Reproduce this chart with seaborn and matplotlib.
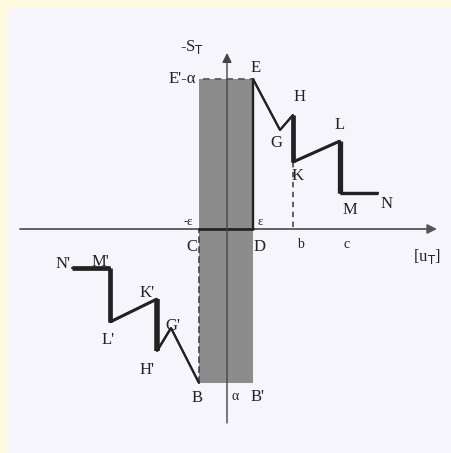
import matplotlib
matplotlib.use("Agg")
import matplotlib.pyplot as plt
import seaborn as sns
import pandas as pd
import numpy as np

# Softening branch for positive slip (E -> G -> H -> K -> L -> M -> N)
right_labels = ["E", "G", "H", "K", "L", "M", "N"]
right_x = [26, 53, 66, 66, 113, 113, 151]
right_y = [150, 99, 114, 67, 88, 36, 36]

# Mirrored branch for negative slip (B -> G' -> H' -> K' -> L' -> M' -> N')
left_labels = ["B", "G'", "H'", "K'", "L'", "M'", "N'"]
left_x = [-28, -56, -70, -70, -117, -117, -155]
left_y = [-154, -99, -122, -70, -93, -39, -39]

# Elastic band between -ε and ε, bounded by E'-α above and B' below
band_x = [-28, 26]
band_top = 150
band_bottom = -154

# Segment widths along each branch
right_widths = [1.5, 1.5, 3.4, 2.2, 3.8, 2.4]
left_widths = [1.5, 1.7, 4.0, 2.2, 3.4, 3.4]

sns.set_theme(style="white")
plt.rcParams["font.family"] = ["Liberation Serif", "DejaVu Serif"]

fig = plt.figure(figsize=(4.52, 4.53), dpi=100, facecolor="#fffbdf")
ax = fig.add_axes([8 / 452, 0, 444 / 452, 445 / 453])
ax.set_facecolor("#f6f5fb")
for s in ax.spines.values():
    s.set_visible(False)
ax.set_xticks([])
ax.set_yticks([])

ink = "#222222"

# shaded elastic band
ax.fill_between(band_x, band_bottom, band_top, color="#8c8c8c", zorder=1, lw=0)
ax.plot([band_x[1], band_x[1]], [0, band_top], color=ink, lw=1.7, zorder=3)
ax.plot([band_x[0], band_x[0]], [band_bottom, 0], color="#444", lw=1.2, ls=(0, (4, 2)), zorder=3)
ax.plot([band_x[0] + 4, band_x[1]], [band_top, band_top], color="#555", lw=1.2, ls=(0, (4, 3)), zorder=3)
ax.plot(band_x, [0, 0], color=ink, lw=1.9, zorder=3)

# coordinate axes
ax.annotate("", xy=(210, 0), xytext=(-207, 0),
            arrowprops=dict(arrowstyle="-|>", color="#555", lw=1.3,
                            mutation_scale=14, shrinkA=0, shrinkB=0), zorder=2)
ax.annotate("", xy=(0, 176), xytext=(0, -194),
            arrowprops=dict(arrowstyle="-|>", color="#444", lw=1.0,
                            mutation_scale=14, shrinkA=0, shrinkB=0), zorder=4)

# branches
right = pd.DataFrame({"x": right_x, "y": right_y})
left = pd.DataFrame({"x": left_x, "y": left_y})
sns.lineplot(data=right, x="x", y="y", sort=False, estimator=None, color=ink, lw=1.5, ax=ax, zorder=5)
sns.lineplot(data=left, x="x", y="y", sort=False, estimator=None, color=ink, lw=1.5, ax=ax, zorder=5)
for xs, ys, ws in ((right_x, right_y, right_widths), (left_x, left_y, left_widths)):
    for i, w in enumerate(ws):
        ax.plot(xs[i:i + 2], ys[i:i + 2], color=ink, lw=w, solid_capstyle="butt", zorder=5)

# projection from K down to b
ax.plot([right_x[3], right_x[3]], [right_y[3], 0], color="#555", lw=1.3, ls=(0, (3, 2.5)), zorder=2)

ax.set_xlabel("")
ax.set_ylabel("")
ax.set_xlim(-219, 225)
ax.set_ylim(-224, 221)

fs = 12
tc = "#222"
labels = [
    ("-S$_\\mathrm{T}$", -35, 182, fs),
    ("E'-α", -45, 150, fs),
    ("E", 29, 161, fs), ("H", 73, 132, fs), ("G", 49, 86, fs),
    ("K", 71, 53, fs), ("L", 113, 104, fs), ("M", 123, 19, fs), ("N", 160, 25, fs),
    ("-ε", -39, 7, 9), ("ε", 33, 7, 9),
    ("C", -35, -18, fs), ("D", 33, -18, fs),
    ("b", 73, -16, 10), ("c", 120, -16, 10),
    ("[u$_\\mathrm{T}$]", 200, -27, fs),
    ("N'", -164, -35, fs), ("M'", -127, -33, fs), ("K'", -80, -64, fs),
    ("G'", -54, -97, fs), ("L'", -119, -111, fs), ("H'", -80, -141, fs),
    ("B", -30, -169, fs), ("α", 8, -168, 10), ("B'", 31, -168, fs),
]
for t, x, y, s in labels:
    ax.text(x, y, t, ha="center", va="center", fontsize=s, color=tc, zorder=6)

fig.savefig("out.png", dpi=100, facecolor=fig.get_facecolor())
